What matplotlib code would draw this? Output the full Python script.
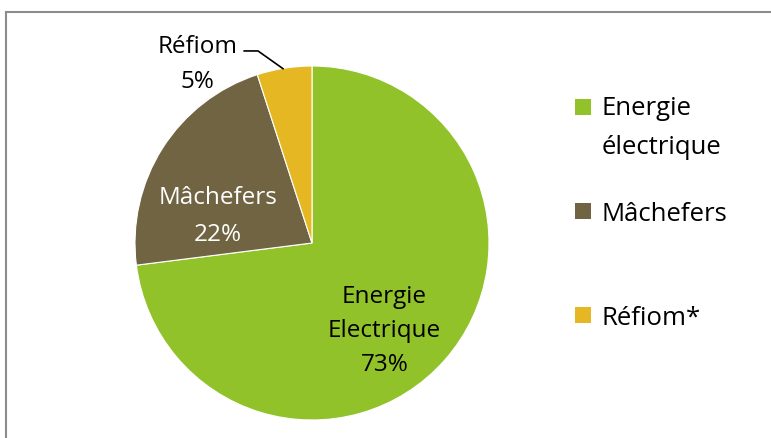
import matplotlib.pyplot as plt
from matplotlib.patches import Rectangle
from matplotlib.lines import Line2D

# --- DATA ---
shares = [73, 22, 5]
slice_labels = ["Energie\nElectrique", "Mâchefers", "Réfiom"]
legend_labels = ["Energie\nélectrique", "Mâchefers", "Réfiom*"]
colors = ["#92C22A", "#706443", "#E5B823"]

plt.rcParams['font.family'] = ['Open Sans', 'DejaVu Sans']
W, H = 771, 439
fig = plt.figure(figsize=(W / 100, H / 100), dpi=100)

# outer frame (chart area border)
fig.add_artist(Line2D([6 / W, 6 / W], [0, 1 - 13 / H], color="#8c8c8c", lw=1.5))
fig.add_artist(Line2D([6 / W, 1], [1 - 13 / H, 1 - 13 / H], color="#8c8c8c", lw=1.5))

# pie axes: center (312, 244), radius 177 px
cx, cy, r = 312, 244, 177
ax = fig.add_axes([(cx - r) / W, (H - cy - r) / H, 2 * r / W, 2 * r / H])
wedges, _ = ax.pie(shares, colors=colors, startangle=90, counterclock=False,
                   wedgeprops=dict(edgecolor="white", linewidth=0.8))
ax.set_xlim(-1, 1)
ax.set_ylim(-1, 1)
ax.set_axis_off()

fs = 17.5
# slice labels
ax.text(0.41, -0.49, f"{slice_labels[0]}\n{shares[0]}%", ha="center", va="center",
        fontsize=fs, color="black", linespacing=1.56)
ax.text(-0.53, 0.155, f"{slice_labels[1]}\n{shares[1]}%", ha="center", va="center",
        fontsize=fs, color="white", linespacing=1.75)
ax.text(-0.645, 1.012, f"{slice_labels[2]}\n{shares[2]}%", ha="center", va="center",
        fontsize=fs, color="black", linespacing=1.6, clip_on=False)
ax.plot([-0.383, -0.305, -0.164], [1.085, 1.085, 0.985], color="black", lw=1.2,
        clip_on=False)

# legend (baseline of the last line; 37 px between lines)
for i, (lab, col) in enumerate(zip(legend_labels, colors)):
    yc = 108 + 104 * i
    fig.add_artist(Rectangle((575 / W, 1 - (yc + 8) / H), 16 / W, 16 / H,
                             transform=fig.transFigure, facecolor=col, edgecolor="none"))
    yb = yc + 9 + 37 * lab.count("\n")
    fig.text(602 / W, 1 - yb / H, lab, ha="left", va="baseline",
             fontsize=18.5, linespacing=1.76)

plt.savefig("out.png", dpi=100)
